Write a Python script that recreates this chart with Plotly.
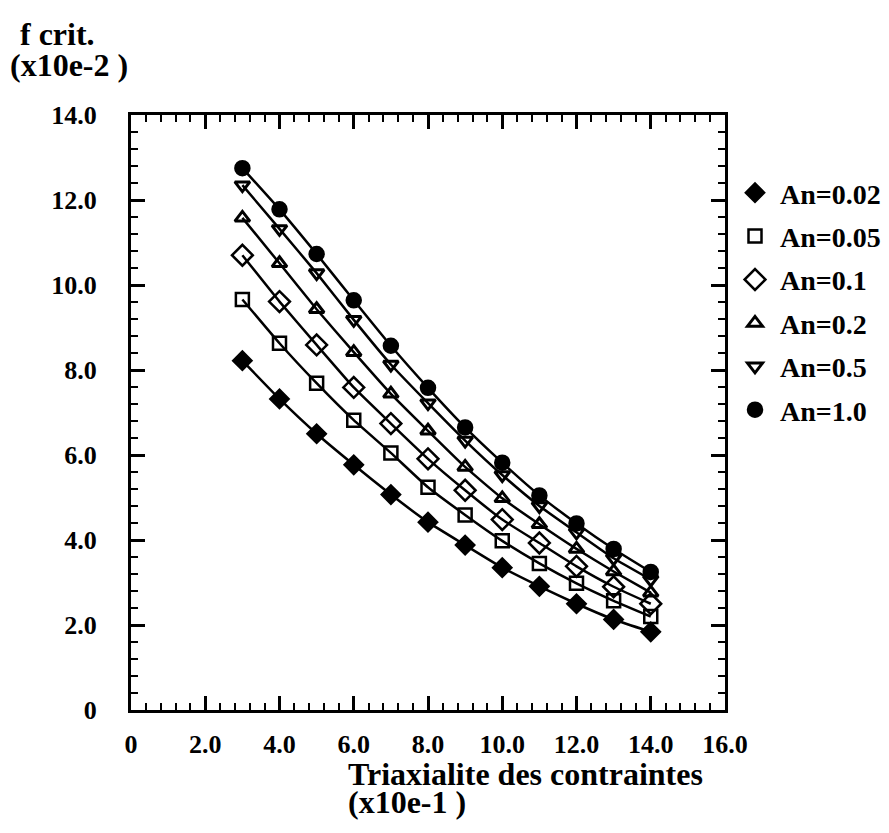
import plotly.graph_objects as go

# ---------------- data ----------------
triax = [3, 4, 5, 6, 7, 8, 9, 10, 11, 12, 13, 14]
an_002 = [8.22, 7.32, 6.50, 5.77, 5.07, 4.42, 3.88, 3.35, 2.91, 2.50, 2.13, 1.84]
an_005 = [9.66, 8.63, 7.69, 6.82, 6.05, 5.24, 4.59, 3.98, 3.45, 2.98, 2.57, 2.20]
an_01 = [10.70, 9.61, 8.59, 7.59, 6.74, 5.91, 5.17, 4.48, 3.93, 3.38, 2.90, 2.50]
an_02 = [11.58, 10.51, 9.43, 8.42, 7.44, 6.57, 5.72, 4.98, 4.37, 3.79, 3.26, 2.76]
an_05 = [12.35, 11.32, 10.28, 9.18, 8.13, 7.22, 6.34, 5.53, 4.80, 4.18, 3.57, 3.07]
an_10 = [12.75, 11.78, 10.73, 9.64, 8.57, 7.58, 6.65, 5.82, 5.05, 4.39, 3.79, 3.25]

series_names = ["An=0.02", "An=0.05", "An=0.1", "An=0.2", "An=0.5", "An=1.0"]
series_values = [an_002, an_005, an_01, an_02, an_05, an_10]

x_tickvals = [0, 2, 4, 6, 8, 10, 12, 14, 16]
x_ticktext = ["0", "2.0", "4.0", "6.0", "8.0", "10.0", "12.0", "14.0", "16.0"]
y_tickvals = [0, 2, 4, 6, 8, 10, 12, 14]
y_ticktext = ["0", "2.0", "4.0", "6.0", "8.0", "10.0", "12.0", "14.0"]

# ---------------- style ----------------
W, H = 889, 833
L, R, T, B = 123, 171, 107, 131
PW, PH = W - L - R, H - T - B
FONT = "Liberation Serif, Times New Roman, serif"

symbols = ["diamond", "square-open", "diamond-open", "triangle-up-open", "triangle-down-open", "circle"]
sizes = [14, 13, 16, 13, 13, 14]
mlw = [2.5, 2.5, 2.5, 3, 3, 2.5]


def px_x(px):
    return (px - L) / PW


def px_y(py):
    return (H - B - py) / PH


fig = go.Figure()
# connecting curves (not in legend)
for name, vals in zip(series_names, series_values):
    fig.add_trace(go.Scatter(
        x=triax, y=vals, mode="lines", showlegend=False, legendgroup=name,
        line=dict(color="black", width=2.5, shape="spline", smoothing=0.4),
        hoverinfo="skip",
    ))
# markers (legend shows markers only)
for i, (name, vals) in enumerate(zip(series_names, series_values)):
    fig.add_trace(go.Scatter(
        x=triax, y=vals, name=name, mode="markers", legendgroup=name,
        marker=dict(symbol=symbols[i], size=sizes[i], color="black",
                    line=dict(color="black", width=mlw[i])),
    ))

axis_common = dict(
    showline=True, linecolor="black", linewidth=3, mirror="allticks",
    ticks="inside", ticklen=14, tickwidth=2.5, tickcolor="black",
    showgrid=False, zeroline=False,
    tickfont=dict(family=FONT, size=26, color="black", weight="bold"),
)

fig.update_xaxes(range=[0, 16], tickvals=x_tickvals, ticktext=x_ticktext,
                 minor=dict(dtick=0.4, ticks="inside", ticklen=7, tickwidth=2, tickcolor="black"),
                 ticklabelstandoff=9, **axis_common)
fig.update_yaxes(range=[0, 14], tickvals=y_tickvals, ticktext=y_ticktext,
                 minor=dict(dtick=0.4, ticks="inside", ticklen=7, tickwidth=2, tickcolor="black"),
                 ticklabelstandoff=26, **axis_common)

ann_font = dict(family=FONT, size=32, color="black", weight="bold")
annotations = [
    dict(text="f crit.", x=px_x(10), y=px_y(26), xanchor="left", yanchor="middle"),
    dict(text="(x10e-2 )", x=px_x(0), y=px_y(57), xanchor="left", yanchor="middle"),
    dict(text="Triaxialite des contraintes", x=px_x(338), y=px_y(766), xanchor="left", yanchor="middle"),
    dict(text="(x10e-1 )", x=px_x(338), y=px_y(794), xanchor="left", yanchor="middle"),
]
for a in annotations:
    a.update(xref="paper", yref="paper", showarrow=False, font=ann_font)

fig.update_layout(
    width=W, height=H,
    margin=dict(l=L, r=R, t=T, b=B),
    paper_bgcolor="white", plot_bgcolor="white",
    annotations=annotations,
    showlegend=True,
    legend=dict(x=px_x(722), y=px_y(160), xanchor="left", yanchor="top",
                font=dict(family=FONT, size=28, color="black", weight="bold"),
                tracegroupgap=4, itemwidth=40, bgcolor="rgba(0,0,0,0)"),
)

fig.write_html("out.html")
